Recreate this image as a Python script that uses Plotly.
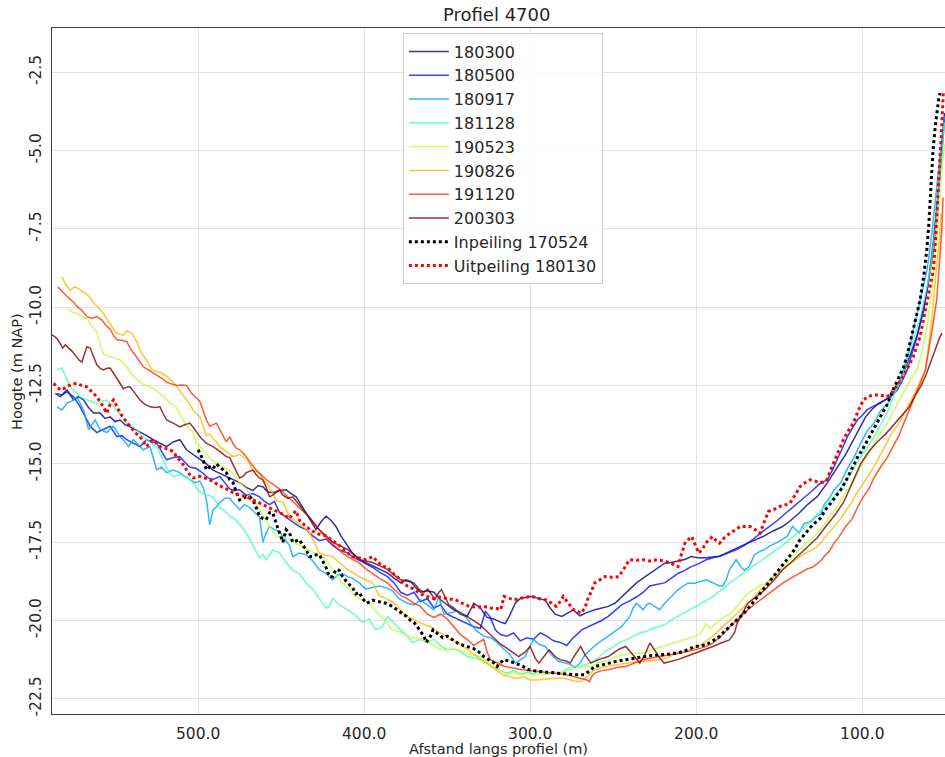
import plotly.graph_objects as go

# Distance along the profile (m) and bed level (m NAP) for each survey
d_180300 = [586, 583, 579, 575, 572, 569, 566, 563, 559, 556, 553, 550, 547, 544, 541, 538, 535, 531, 527, 523,
            519, 515, 511, 507, 503, 499, 495, 491, 487, 483, 479, 475, 471, 467, 464, 461, 458, 455, 451, 447,
            444, 441, 438, 435, 432, 429, 426, 423, 420, 417, 414, 410, 407, 403, 399, 395, 391, 386, 382, 378,
            375, 372, 369, 366, 362, 358, 354, 350, 346, 342, 338, 334, 330, 326, 322, 318, 315, 312, 309, 306,
            302, 299, 295, 291, 288, 285, 281, 277, 274, 270, 266, 261, 257, 253, 249, 245, 241, 236, 232, 228,
            224, 219, 215, 211, 207, 203, 199, 194, 190, 186, 182, 178, 174, 169, 164, 159, 154, 148, 143, 138,
            133, 127, 121, 115, 110, 106, 102, 98, 94, 90, 86, 83, 79, 75, 71, 67, 63, 60, 57, 54, 52, 50.5]
z_180300 = [-12.75, -12.86, -12.64, -12.96, -12.85, -12.96, -13.2, -13.38, -13.38, -13.55, -13.5, -13.65, -13.6,
            -13.75, -13.82, -13.9, -14.0, -14.1, -14.23, -14.35, -14.45, -14.3, -14.23, -14.55, -14.7, -14.85,
            -15.0, -15.2, -15.3, -15.4, -15.5, -15.6, -15.75, -15.85, -15.7, -15.73, -15.9, -15.92, -15.85, -15.83,
            -15.95, -16.05, -16.3, -16.56, -16.85, -17.1, -16.85, -16.67, -16.8, -17.0, -17.3, -17.63, -17.85,
            -18.05, -18.15, -18.27, -18.35, -18.48, -18.65, -18.8, -18.7, -18.75, -18.95, -19.1, -19.05, -19.1,
            -19.34, -19.5, -19.66, -19.75, -19.87, -19.45, -19.6, -19.9, -19.95, -20.05, -20.1, -19.8, -19.45,
            -19.3, -19.25, -19.23, -19.3, -19.35, -19.6, -19.8, -19.87, -19.75, -19.66, -19.85, -19.75, -19.66,
            -19.6, -19.55, -19.45, -19.25, -19.05, -18.8, -18.65, -18.5, -18.35, -18.17, -18.15, -18.1, -18.05,
            -17.96, -18.0, -18.0, -17.98, -17.95, -17.85, -17.74, -17.65, -17.53, -17.42, -17.3, -17.15, -17.0,
            -16.8, -16.57, -16.3, -16.04, -15.6, -15.1, -14.7, -14.3, -13.9, -13.5, -13.25, -13.06, -12.95,
            -12.85, -12.64, -12.1, -11.5, -10.9, -10.1, -9.1, -7.8, -6.2, -4.9, -3.8]

d_180500 = [585, 582, 579, 575, 571, 568, 565, 561, 557, 553, 549, 546, 543, 539, 535, 531, 528, 525, 522, 519,
            515, 511, 508, 505, 501, 497, 494, 491, 487, 484, 481, 478, 475, 471, 467, 463, 460, 457, 454, 451,
            447, 443, 439, 435, 431, 427, 423, 419, 415, 410, 406, 402, 398, 395, 391, 386, 382, 378, 374, 370,
            366, 362, 358, 354, 350, 346, 342, 338, 334, 330, 327, 324, 321, 318, 314, 310, 306, 302, 298, 294,
            290, 286, 282, 278, 275, 272, 269, 265, 261, 257, 253, 249, 245, 241, 236, 232, 228, 224, 219, 215,
            211, 207, 203, 199, 194, 190, 186, 181, 176, 171, 166, 161, 156, 151, 146, 141, 136, 131, 126, 121,
            118, 115, 112, 109, 106, 103, 100, 97, 93, 89, 86, 83, 79, 76, 73, 70, 67, 64, 61, 57, 54, 52, 50.5]
z_180500 = [-12.75, -12.8, -12.7, -12.86, -13.18, -13.5, -13.8, -14.0, -13.9, -13.8, -14.13, -14.1, -14.23, -14.33,
            -14.45, -14.23, -14.3, -14.33, -14.6, -14.87, -14.8, -14.77, -14.95, -15.1, -15.15, -15.3, -15.45,
            -15.5, -15.4, -15.6, -15.8, -15.85, -15.83, -16.0, -15.95, -16.05, -16.2, -16.3, -16.2, -16.55, -16.7,
            -16.85, -17.0, -17.1, -17.3, -17.45, -17.4, -17.6, -17.75, -17.84, -18.0, -18.1, -18.2, -18.3, -18.45,
            -18.6, -18.8, -19.1, -19.2, -19.1, -19.4, -19.3, -19.6, -19.5, -19.8, -19.9, -20.0, -20.1, -20.2,
            -20.25, -19.7, -19.9, -20.3, -20.45, -20.5, -20.4, -20.65, -20.55, -20.6, -20.4, -20.5, -20.65, -20.7,
            -20.8, -20.6, -20.45, -20.3, -20.2, -20.1, -20.0, -19.87, -19.7, -19.5, -19.4, -19.25, -19.1, -18.9,
            -18.85, -18.8, -18.65, -18.5, -18.4, -18.28, -18.2, -18.06, -18.0, -17.95, -17.85, -17.74, -17.6,
            -17.42, -17.2, -17.0, -16.8, -16.57, -16.35, -16.15, -15.9, -15.65, -15.5, -15.2, -14.87, -14.5,
            -14.13, -13.85, -13.6, -13.45, -13.27, -13.15, -13.06, -12.95, -12.85, -12.64, -12.35, -12.0, -11.5,
            -10.94, -10.2, -9.45, -8.17, -6.4, -5.0, -4.0]

d_180917 = [585, 582, 579, 576, 573, 569, 566, 562, 559, 555, 551, 547, 544, 542, 539, 536, 533, 529, 525, 522,
            519, 515, 511, 508, 505, 502, 499, 497, 495, 493, 491, 489, 487, 484, 481, 478, 475, 472, 469, 466,
            463, 461, 459, 457, 454, 451, 448, 445, 443, 439, 435, 431, 427, 423, 419, 416, 413, 410, 407, 403,
            399, 395, 391, 387, 383, 379, 374, 370, 366, 362, 358, 355, 352, 348, 344, 340, 336, 332, 328, 324,
            320, 316, 312, 309, 306, 303, 300, 298, 295, 291, 287, 283, 279, 276, 273, 270, 267, 264, 261, 259,
            256, 253, 249, 245, 242, 240, 238, 236, 234, 232, 230, 228, 225, 222, 219, 215, 211, 208, 205, 201,
            197, 194, 190, 186, 184, 182, 180, 178, 176, 173, 171, 168, 165, 162, 159, 155, 152, 148, 145, 142,
            140, 138, 135, 131, 128, 125, 123, 120, 117, 113, 109, 105, 101, 97, 93, 89, 85, 81, 77, 73, 70, 67,
            64, 61, 58, 55, 52.5, 50.5]
z_180917 = [-13.18, -13.28, -13.06, -13.0, -12.86, -13.28, -13.9, -13.6, -13.9, -14.0, -13.8, -14.13, -14.3, -14.45,
            -14.23, -14.4, -14.55, -14.45, -15.19, -15.1, -15.28, -15.2, -15.28, -15.4, -15.51, -15.6, -15.55,
            -15.75, -16.15, -16.94, -16.46, -16.37, -16.24, -16.1, -16.1, -16.3, -16.46, -16.3, -16.4, -16.55,
            -16.7, -17.5, -17.2, -17.0, -17.1, -17.15, -17.4, -17.6, -17.96, -17.85, -17.9, -18.1, -18.38, -18.5,
            -18.7, -18.55, -18.5, -18.6, -18.65, -18.8, -19.0, -18.95, -18.9, -18.95, -19.05, -19.3, -19.45,
            -19.5, -19.34, -19.5, -19.66, -19.25, -19.8, -19.75, -19.7, -19.8, -20.1, -20.35, -20.5, -20.55,
            -20.7, -20.9, -21.1, -21.36, -21.25, -21.15, -20.8, -20.6, -20.75, -20.83, -21.1, -21.3, -21.36,
            -21.4, -21.5, -21.36, -21.1, -20.94, -20.8, -20.72, -20.6, -20.51, -20.35, -20.2, -20.0, -19.87,
            -19.6, -19.45, -19.55, -19.66, -19.5, -19.45, -19.55, -19.66, -19.45, -19.23, -19.02, -18.9, -18.81,
            -18.81, -18.75, -18.7, -18.8, -18.9, -18.9, -18.7, -18.38, -18.2, -18.06, -18.3, -18.4, -18.27, -17.9,
            -17.8, -17.74, -17.6, -17.53, -17.4, -17.3, -17.0, -17.1, -17.2, -16.9, -16.85, -16.68, -16.6, -16.3,
            -16.1, -15.83, -15.6, -15.15, -14.8, -14.34, -13.95, -13.7, -13.3, -13.1, -12.7, -12.3, -11.6, -10.9,
            -10.1, -9.5, -8.8, -7.6, -6.0, -4.8, -3.9]

d_181128 = [585, 582, 579, 577, 574, 571, 567, 564, 561, 558, 555, 552, 549, 546, 543, 540, 537, 534, 531, 528,
            525, 522, 519, 517, 515, 511, 507, 505, 503, 500, 497, 494, 491, 487, 484, 481, 477, 474, 471, 467,
            463, 461, 459, 455, 451, 447, 443, 439, 435, 431, 427, 423, 421, 419, 415, 410, 406, 401, 397, 393,
            389, 386, 382, 378, 374, 371, 366, 362, 358, 354, 350, 346, 342, 338, 334, 330, 326, 322, 318, 314,
            310, 306, 302, 298, 294, 290, 286, 282, 278, 274, 270, 266, 262, 258, 254, 250, 246, 242, 238, 234,
            230, 226, 222, 218, 214, 211, 207, 203, 200, 196, 192, 188, 184, 180, 176, 172, 168, 164, 160, 156,
            152, 148, 144, 140, 136, 132, 128, 124, 120, 116, 112, 108, 104, 100, 96, 92, 88, 85, 81, 77, 73, 69,
            65, 62, 59, 56, 53, 50.5]
z_181128 = [-12.0, -11.94, -12.3, -12.54, -12.7, -12.86, -12.96, -13.0, -13.06, -13.0, -12.96, -13.1, -13.28, -13.5,
            -13.7, -13.8, -13.9, -14.1, -14.23, -14.35, -14.45, -14.8, -15.1, -15.3, -15.4, -15.35, -15.4, -15.5,
            -15.6, -15.85, -15.95, -16.0, -16.05, -16.4, -16.5, -16.67, -16.8, -17.0, -17.2, -17.6, -18.0, -17.9,
            -18.06, -17.75, -17.84, -18.15, -18.4, -18.5, -18.8, -19.0, -19.3, -19.6, -19.55, -19.3, -19.5, -19.66,
            -19.8, -20.06, -19.95, -20.3, -20.2, -19.87, -20.1, -20.3, -20.5, -20.7, -20.6, -20.7, -20.6, -20.8,
            -20.93, -20.9, -21.0, -21.15, -21.2, -21.25, -21.36, -21.5, -21.6, -21.68, -21.6, -21.7, -21.65,
            -21.7, -21.6, -21.72, -21.65, -21.68, -21.55, -21.47, -21.45, -21.4, -21.3, -21.15, -20.95, -20.85,
            -20.7, -20.62, -20.5, -20.4, -20.35, -20.25, -20.19, -20.1, -19.95, -19.87, -19.75, -19.62, -19.55,
            -19.42, -19.3, -19.15, -19.0, -18.81, -18.65, -18.5, -18.35, -18.2, -18.05, -17.9, -17.75, -17.6,
            -17.42, -17.25, -17.05, -16.88, -16.66, -16.45, -16.22, -15.98, -15.7, -15.4, -15.05, -14.7, -14.4,
            -14.05, -13.65, -13.38, -12.8, -12.4, -11.68, -11.0, -10.3, -9.6, -8.8, -7.5, -5.6, -4.1]

d_190523 = [578.5, 576, 573, 570, 567, 564, 561, 559, 557, 554, 551, 547, 543, 539, 535, 531, 527, 523, 519, 516,
            513, 510, 507, 503, 501, 498, 495, 491, 487, 483, 479, 475, 471, 467, 463, 460, 457, 453, 449, 445,
            441, 437, 433, 429, 425, 422, 419, 416, 413, 409, 405, 401, 397, 393, 389, 386, 383, 379, 374, 370,
            366, 362, 358, 354.5, 350, 346, 342.6, 338, 334, 330, 326, 322, 318, 314, 310, 306, 302, 298, 294,
            290, 286, 282, 278, 274, 270, 266, 263, 259, 255, 252, 248, 244, 240, 236, 232, 228, 224, 220, 216,
            211, 207, 203, 200, 197, 194, 192, 190, 186, 182, 179, 175, 172, 169, 165, 162, 158, 154, 150, 146,
            142, 138, 134, 130, 127, 123, 120, 117, 113, 110, 106, 103, 100, 96, 92, 89, 85, 81, 78, 75, 71, 67,
            64, 61, 58, 55, 53, 50.5]
z_190523 = [-10.05, -10.15, -10.2, -10.3, -10.35, -10.6, -10.8, -11.2, -11.5, -11.55, -11.6, -11.68, -11.9, -12.2,
            -12.4, -12.5, -12.6, -12.75, -12.95, -13.1, -13.2, -13.5, -13.8, -14.0, -14.33, -14.5, -14.7, -14.9,
            -15.05, -15.15, -15.3, -15.6, -15.8, -16.1, -16.46, -16.7, -17.0, -17.3, -17.35, -17.4, -17.55,
            -17.65, -17.75, -17.9, -17.95, -18.15, -18.4, -18.6, -18.8, -19.0, -19.25, -19.35, -19.45, -19.7,
            -19.9, -20.1, -20.3, -20.35, -20.5, -20.55, -20.6, -20.7, -20.8, -20.9, -20.95, -20.9, -20.95, -21.05,
            -21.1, -21.15, -21.3, -21.5, -21.6, -21.73, -21.65, -21.75, -21.68, -21.75, -21.7, -21.72, -21.65,
            -21.7, -21.6, -21.55, -21.5, -21.45, -21.47, -21.35, -21.3, -21.25, -21.15, -21.1, -21.05, -21.05,
            -21.04, -20.95, -20.9, -20.83, -20.75, -20.67, -20.6, -20.55, -20.5, -20.4, -20.09, -20.25, -20.19,
            -20.0, -19.85, -19.77, -19.5, -19.3, -19.13, -19.0, -18.9, -18.81, -18.6, -18.4, -18.2, -17.95, -17.74,
            -17.55, -17.35, -17.21, -16.95, -16.7, -16.47, -16.2, -15.9, -15.62, -15.3, -15.0, -14.66, -14.3,
            -14.0, -13.7, -13.3, -13.0, -12.74, -12.3, -12.0, -11.4, -10.6, -9.4, -7.7, -6.2, -4.8]

d_190826 = [582, 579.5, 577, 574.5, 572, 570, 568, 565, 563, 561, 559, 557, 555, 552, 550, 547, 545, 543, 540, 537,
            535, 533, 531, 528, 525, 522, 519, 517, 514, 512, 509, 507, 505, 503, 501, 499, 497, 495, 493, 491,
            489, 487, 483, 479, 475, 471, 469, 467, 465, 463, 461, 459, 456, 453, 451, 449, 447, 445, 442, 440,
            437, 435, 433, 431, 429, 427, 424, 421, 419, 416, 413, 410, 406, 403, 399, 395, 393, 391, 387, 383,
            379, 375, 371, 367, 363, 360, 356, 352, 348, 344, 340, 336, 332, 328, 324, 320, 316, 312, 308, 304,
            300, 296, 292, 288, 284, 280, 276, 272, 269.6, 266, 263, 261, 257, 253, 249, 245, 242, 238, 234, 230,
            226, 222, 218, 214, 210, 206, 202, 198, 194, 190, 186, 182, 179.6, 176, 172, 169, 165, 162, 158.7,
            155, 152, 148, 144, 141, 137.8, 134, 131, 127, 124, 120, 117, 113, 110, 106, 103, 99, 96, 92, 89, 85,
            82, 78, 75, 72, 69, 66.5, 64, 62, 60, 58, 56.5, 55, 53.5, 52.5]
z_190826 = [-9.03, -9.3, -9.45, -9.35, -9.4, -9.5, -9.54, -9.7, -9.85, -9.95, -10.08, -10.2, -10.35, -10.6, -10.8,
            -10.85, -10.9, -10.75, -10.83, -11.1, -11.36, -11.55, -11.7, -12.0, -12.05, -12.1, -12.2, -12.3,
            -12.45, -12.6, -12.8, -12.95, -13.1, -13.3, -13.4, -13.5, -13.8, -14.1, -14.05, -14.2, -14.3, -14.45,
            -14.6, -14.77, -14.7, -14.85, -15.0, -15.2, -15.25, -15.3, -15.5, -15.6, -15.85, -16.15, -16.2, -16.2,
            -16.45, -16.7, -16.8, -16.9, -17.0, -17.1, -17.2, -17.4, -17.6, -17.85, -17.9, -17.95, -17.96, -18.1,
            -18.25, -18.38, -18.5, -18.6, -18.7, -18.8, -19.0, -19.2, -19.3, -19.4, -19.6, -19.85, -19.95, -20.06,
            -20.15, -20.2, -20.35, -20.45, -20.6, -20.7, -20.85, -21.0, -21.15, -21.3, -21.45, -21.6, -21.75,
            -21.8, -21.85, -21.8, -21.9, -21.9, -21.88, -21.85, -21.84, -21.84, -21.9, -21.95, -21.95, -21.8,
            -21.65, -21.57, -21.5, -21.45, -21.42, -21.38, -21.36, -21.33, -21.3, -21.28, -21.27, -21.25, -21.2,
            -21.1, -21.05, -20.98, -20.9, -20.8, -20.65, -20.5, -20.3, -20.1, -19.98, -19.8, -19.6, -19.45, -19.25,
            -19.05, -18.9, -18.7, -18.55, -18.38, -18.2, -18.1, -17.96, -17.85, -17.75, -17.64, -17.45, -17.2,
            -17.0, -16.75, -16.5, -16.2, -15.9, -15.6, -15.35, -15.0, -14.7, -14.34, -14.0, -13.7, -13.38, -13.1,
            -12.8, -12.5, -12.25, -12.0, -11.2, -10.3, -9.4, -8.6, -7.8, -7.0]

d_191120 = [584.5, 582, 580, 577, 575, 573, 570, 567, 564, 561, 558, 556, 553, 551, 549, 546, 543, 541, 539, 536,
            533, 530, 527, 524, 521, 519, 516, 513, 510, 507, 504, 501, 499, 497, 495, 493, 491, 489, 487, 485,
            483, 481, 479, 477, 475, 473, 471, 468, 465, 462, 459, 455, 451, 447, 443, 439, 436, 433, 430, 427,
            425, 422, 418, 414, 410, 407, 403, 399, 395, 391, 386, 382, 378, 374, 370, 366, 362, 358, 354, 350,
            346, 342, 338, 334, 331, 328, 326, 324, 320, 316, 312, 308, 305, 301, 297, 294.8, 290, 284, 279, 274,
            269, 266, 264.4, 262.5, 261, 257, 253, 248, 242.4, 237, 232, 227, 221.5, 216, 211, 206, 200.6, 195,
            190, 185, 179.6, 174, 169, 164, 158.7, 153, 148, 143, 137.8, 133, 130, 127, 125, 123, 120, 117, 113,
            110, 106, 103, 100, 96, 93, 89, 85, 82, 78, 75, 71, 68, 65, 62, 59.2, 57, 55.2, 53.5, 52.2, 51.4]
z_191120 = [-9.35, -9.5, -9.6, -9.75, -9.83, -9.98, -10.1, -10.3, -10.35, -10.3, -10.4, -10.55, -10.7, -10.9,
            -11.04, -11.05, -11.1, -11.3, -11.46, -11.7, -11.9, -12.0, -12.1, -12.2, -12.3, -12.4, -12.45, -12.5,
            -12.48, -12.5, -12.75, -12.9, -13.0, -13.3, -13.6, -13.8, -13.75, -13.7, -13.9, -14.1, -14.3, -14.13,
            -14.35, -14.5, -14.55, -14.65, -14.77, -15.0, -15.2, -15.35, -15.5, -15.65, -15.8, -16.0, -16.2,
            -16.4, -16.55, -16.7, -16.9, -17.1, -17.25, -17.4, -17.6, -17.8, -17.96, -18.05, -18.16, -18.35,
            -18.5, -18.65, -18.8, -19.0, -19.2, -19.3, -19.45, -19.55, -19.8, -19.9, -19.8, -19.95, -20.2, -20.45,
            -20.6, -20.8, -20.7, -20.6, -21.0, -21.25, -21.35, -21.45, -21.5, -21.55, -21.57, -21.6, -21.62,
            -21.63, -21.65, -21.68, -21.72, -21.79, -21.85, -21.9, -21.95, -21.75, -21.68, -21.6, -21.57, -21.5,
            -21.47, -21.35, -21.25, -21.2, -21.15, -21.1, -21.04, -21.0, -20.93, -20.85, -20.72, -20.5, -20.19,
            -19.9, -19.66, -19.45, -19.23, -19.0, -18.81, -18.65, -18.49, -18.35, -18.3, -18.17, -18.1, -17.96,
            -17.8, -17.53, -17.25, -17.0, -16.75, -16.4, -16.1, -15.8, -15.45, -15.1, -14.8, -14.5, -14.1, -13.7,
            -13.2, -12.8, -12.42, -12.0, -11.15, -10.4, -9.77, -8.6, -7.6, -6.5]

d_200303 = [588, 586, 584.5, 583, 581.5, 580, 578.5, 576, 573, 571.5, 570, 568, 567, 565, 563, 561, 559, 557, 555,
            553, 551, 549, 547, 545, 543, 541, 538, 535, 532, 529, 526, 523, 521, 519, 515, 511, 508, 505, 502,
            499, 495, 491, 487, 483, 481, 478, 475, 473, 471, 467, 465, 463, 461, 459, 457, 455, 453, 451, 449,
            446, 443, 440, 437, 434, 431, 428, 425, 422, 419, 415, 410, 406, 403, 399, 395, 391, 386, 382, 378,
            374, 370, 367, 364, 361.8, 359, 357.6, 355, 353.4, 351, 349, 346, 342, 338, 334, 330, 326, 322, 318,
            315, 311, 307, 303, 300, 297, 294.8, 291, 288.5, 285, 282, 278, 275.9, 273, 269.6, 267, 263.4, 259,
            256, 252.9, 249, 246, 242.4, 239, 236, 234, 231, 228, 225, 222, 219.4, 215, 211, 206, 200.6, 195, 190,
            185, 180, 177, 175.4, 172, 169, 164, 158.7, 153, 148, 143, 138, 133, 127, 122, 116, 111, 106, 101, 96,
            91, 86, 81, 76, 72, 68, 64.5, 61.2, 58, 55, 53.2, 52]
z_200303 = [-10.88, -10.95, -11.04, -11.15, -11.3, -11.2, -11.27, -11.4, -11.6, -11.7, -11.75, -11.4, -11.26, -11.3,
            -11.55, -11.84, -11.95, -12.0, -11.95, -11.94, -12.1, -12.27, -12.45, -12.6, -12.55, -12.54, -12.75,
            -12.96, -13.1, -13.18, -13.2, -13.18, -13.4, -13.6, -13.7, -13.82, -13.75, -13.7, -13.9, -14.13,
            -14.35, -14.45, -14.6, -14.77, -14.8, -15.1, -15.45, -15.4, -15.28, -15.2, -15.35, -15.45, -15.51,
            -15.75, -16.05, -16.0, -15.9, -15.83, -16.0, -16.1, -16.05, -16.25, -16.46, -16.65, -16.88, -17.05,
            -17.2, -17.35, -17.5, -17.6, -17.73, -17.9, -18.05, -18.1, -18.15, -18.25, -18.37, -18.55, -18.7,
            -18.75, -18.8, -19.0, -19.1, -19.0, -19.2, -19.35, -19.1, -19.02, -19.3, -19.5, -19.6, -19.8, -19.87,
            -20.0, -20.15, -20.35, -20.55, -20.75, -20.85, -21.0, -21.15, -21.0, -20.83, -21.2, -21.36, -21.1,
            -20.94, -21.15, -21.25, -21.3, -21.36, -21.1, -20.83, -21.1, -21.36, -21.25, -21.2, -21.15, -21.0,
            -20.9, -20.83, -21.05, -21.25, -21.36, -21.1, -20.72, -20.95, -21.2, -21.36, -21.3, -21.25, -21.15,
            -21.04, -20.95, -20.83, -20.72, -20.62, -20.4, -20.09, -19.75, -19.45, -19.25, -19.02, -18.7, -18.38,
            -18.15, -17.9, -17.65, -17.35, -17.0, -16.6, -16.2, -15.6, -15.0, -14.6, -14.3, -14.05, -13.75, -13.45,
            -13.2, -12.8, -12.5, -12.1, -11.6, -11.2, -10.94, -10.83]

d_in170524 = [500, 497, 495, 493, 491, 489, 487, 485, 483, 481, 479, 477, 475, 473, 471, 469, 467, 465, 463, 461,
              459, 457, 455, 453, 451, 449, 447, 445, 443, 441, 439, 437, 435, 433, 431, 429, 427, 425, 423, 421,
              419, 417, 415, 413, 410, 407, 405, 403, 401, 398.5, 395, 391, 387, 383, 379, 374.5, 372, 370, 368,
              366.6, 364, 362.6, 360, 358.6, 356, 352.6, 350, 347, 343, 340, 337, 334, 331, 328, 325, 322, 320,
              318, 315.7, 312, 309, 305, 301, 298, 294.8, 290, 284.3, 279, 273.8, 270, 267.5, 264, 261.3, 257,
              252.9, 248, 242.4, 237, 232, 227, 221.5, 216, 211, 206, 200.6, 197, 194.3, 190, 186, 183, 179.6, 175,
              171.3, 167, 162.9, 159, 156, 152, 148, 144, 141, 137.8, 134, 130, 125.5, 122, 118.9, 115.4, 112.6,
              109, 106, 103, 100, 97, 94, 91, 88, 85, 81.2, 77.1, 75, 73.2, 71, 69.2, 67, 65.2, 63, 61.2, 60,
              59.2, 58.3, 57.4, 56, 55, 54, 53.2]
z_in170524 = [-14.55, -14.87, -15.19, -15.1, -15.15, -15.0, -15.1, -15.2, -15.28, -15.5, -15.6, -15.9, -16.15,
              -16.1, -16.05, -16.05, -16.15, -16.4, -16.67, -16.75, -16.78, -16.56, -16.56, -16.9, -17.2, -17.5,
              -17.1, -17.2, -17.5, -17.45, -17.42, -17.6, -17.73, -17.96, -17.96, -17.9, -17.9, -18.1, -18.3,
              -18.6, -18.6, -18.37, -18.4, -18.6, -18.8, -18.95, -19.15, -19.1, -19.3, -19.45, -19.35, -19.4,
              -19.45, -19.55, -19.7, -19.87, -20.0, -20.06, -20.2, -20.3, -20.5, -20.7, -20.5, -20.3, -20.4,
              -20.55, -20.5, -20.6, -20.75, -20.8, -20.85, -20.9, -21.0, -21.15, -21.25, -21.35, -21.47, -21.35,
              -21.25, -21.3, -21.36, -21.45, -21.57, -21.6, -21.63, -21.65, -21.68, -21.7, -21.73, -21.73, -21.73,
              -21.6, -21.47, -21.42, -21.36, -21.3, -21.25, -21.2, -21.15, -21.12, -21.1, -21.07, -21.04, -20.95,
              -20.83, -20.8, -20.78, -20.65, -20.51, -20.35, -20.19, -19.95, -19.77, -19.5, -19.23, -18.95, -18.75,
              -18.5, -18.25, -17.96, -17.75, -17.45, -17.2, -16.95, -16.75, -16.45, -16.25, -16.0, -15.8, -15.45,
              -15.1, -14.8, -14.55, -14.25, -14.0, -13.7, -13.4, -13.1, -12.6, -12.15, -11.9, -11.57, -11.1,
              -10.62, -10.2, -9.77, -9.0, -8.17, -7.4, -6.58, -5.8, -4.98, -4.2, -3.7, -3.35, -3.16]

d_uit180130 = [587, 585, 583, 581, 579, 576, 573, 570, 567, 564, 561, 558, 555, 553, 551, 549, 547, 544, 541, 538,
               535, 533, 531, 529, 527, 525, 523, 520, 517, 515, 513, 510, 507, 505, 503, 501, 499, 496, 493, 490,
               487, 483, 479, 475, 471, 467, 463, 459, 455, 451, 447, 445, 443, 441, 439, 435, 431, 427, 423, 419,
               415, 411, 407, 403, 399, 395, 392, 389, 386, 383, 380, 378, 374, 370, 366, 362.6, 358, 354.6, 350,
               345, 341, 336.6, 332, 328.3, 324, 320, 317.8, 315.7, 312, 309.4, 305, 302, 299, 295, 290.6, 287,
               284.3, 282, 280.1, 277, 273.8, 271, 269.6, 267, 265.5, 263, 261.3, 258, 255, 251, 246.6, 243, 240.3,
               236, 232, 228, 223.6, 219, 215.2, 212.5, 211, 209, 206.8, 204.5, 202.7, 200.5, 198.5, 196, 194.3,
               192, 190.1, 188, 186, 183, 179.7, 176, 173.6, 170, 167.6, 164.5, 161.6, 159, 156.6, 153, 149.6, 146,
               143.5, 140.5, 137.5, 134.5, 131.5, 128.5, 125.5, 123.5, 121.4, 119.5, 117.4, 114.5, 111.4, 108.5,
               105.4, 102.5, 99.4, 96.5, 93.3, 89.5, 85.3, 83, 81.3, 78.3, 75.3, 72.3, 69.2, 67.2, 65.2, 63.2,
               61.2, 59.2, 57.2, 56, 55, 54, 53.2, 52.4, 51.8, 51.2]
z_uit180130 = [-12.43, -12.55, -12.64, -12.6, -12.54, -12.45, -12.43, -12.5, -12.54, -12.7, -12.86, -13.1, -13.38,
               -13.1, -12.96, -13.15, -13.38, -13.6, -13.82, -14.0, -14.13, -14.3, -14.45, -14.3, -14.23, -14.35,
               -14.45, -14.5, -14.55, -14.6, -14.77, -14.95, -15.19, -15.35, -15.45, -15.42, -15.4, -15.45, -15.51,
               -15.6, -15.7, -15.8, -15.92, -16.0, -16.05, -16.15, -16.24, -16.35, -16.46, -16.55, -16.67, -16.75,
               -16.6, -16.5, -16.8, -17.0, -17.15, -17.25, -17.3, -17.45, -17.6, -17.8, -17.96, -18.0, -18.06,
               -17.96, -18.1, -18.27, -18.3, -18.48, -18.6, -18.75, -18.9, -19.0, -19.15, -19.23, -19.3, -19.25,
               -19.3, -19.34, -19.45, -19.55, -19.58, -19.55, -19.6, -19.62, -19.66, -19.23, -19.3, -19.34, -19.28,
               -19.25, -19.23, -19.3, -19.34, -19.45, -19.55, -19.4, -19.23, -19.45, -19.66, -19.72, -19.77, -19.6,
               -19.34, -19.05, -18.81, -18.7, -18.6, -18.62, -18.6, -18.3, -18.06, -18.08, -18.06, -18.1, -18.06,
               -18.1, -18.17, -18.25, -18.28, -17.9, -17.53, -17.4, -17.32, -17.6, -17.85, -17.7, -17.53, -17.4,
               -17.32, -17.45, -17.53, -17.35, -17.21, -17.1, -17.0, -17.0, -17.0, -17.1, -17.21, -16.85, -16.52,
               -16.45, -16.36, -16.3, -16.25, -16.0, -15.72, -15.6, -15.51, -15.55, -15.6, -15.58, -15.51, -15.25,
               -14.98, -14.6, -14.23, -13.95, -13.7, -13.3, -12.96, -12.85, -12.8, -12.8, -12.85, -12.8, -12.64,
               -12.45, -12.21, -11.9, -11.57, -11.25, -10.94, -10.4, -9.87, -9.35, -8.81, -7.9, -6.8, -5.9, -5.2,
               -4.5, -3.8, -3.1]

# Survey labels and jet-colormap colours
survey_names = ["180300", "180500", "180917", "181128", "190523", "190826", "191120", "200303"]
survey_colors = ["rgb(0,0,128)", "rgb(0,18,255)", "rgb(0,164,255)", "rgb(65,255,182)",
                 "rgb(182,255,65)", "rgb(255,185,0)", "rgb(255,50,0)", "rgb(128,0,0)"]
survey_d = [d_180300, d_180500, d_180917, d_181128, d_190523, d_190826, d_191120, d_200303]
survey_z = [z_180300, z_180500, z_180917, z_181128, z_190523, z_190826, z_191120, z_200303]

x_ticks = [500, 400, 300, 200, 100]
y_ticks = [-2.5, -5.0, -7.5, -10.0, -12.5, -15.0, -17.5, -20.0, -22.5]

FONT = "DejaVu Sans"
TXT = "#262626"

fig = go.Figure()
for name, color, dd, zz in zip(survey_names, survey_colors, survey_d, survey_z):
    fig.add_trace(go.Scatter(x=dd, y=zz, mode="lines", name=name, opacity=0.8,
                             line=dict(color=color, width=1.5)))

fig.add_trace(go.Scatter(x=d_in170524, y=z_in170524, mode="lines", name="Inpeiling 170524",
                         line=dict(color="black", width=3, dash="dot")))
fig.add_trace(go.Scatter(x=d_uit180130, y=z_uit180130, mode="lines", name="Uitpeiling 180130",
                         line=dict(color="red", width=3, dash="dot")))

fig.update_layout(
    width=945, height=757,
    margin=dict(l=52, r=0, t=28, b=43),
    paper_bgcolor="white", plot_bgcolor="white",
    font=dict(family=FONT, color=TXT),
    title=dict(text="Profiel 4700", x=0.498, xref="paper", xanchor="center",
               y=1 - 15 / 757, yref="container", yanchor="middle",
               font=dict(size=18, color=TXT, family=FONT)),
    showlegend=True,
    legend=dict(x=0.3929, y=0.992, xanchor="left", yanchor="top",
                bgcolor="rgba(255,255,255,0.85)", bordercolor="#cccccc", borderwidth=1,
                font=dict(size=16, color=TXT, family=FONT), itemwidth=40,
                tracegroupgap=0),
    annotations=[dict(text="Hoogte (m NAP)", textangle=-90, xref="paper", yref="paper",
                      x=-0.0392, y=0.5, xanchor="center", yanchor="middle", showarrow=False,
                      font=dict(size=14.5, color=TXT, family=FONT))],
)

fig.update_xaxes(
    range=[588, 50.2], autorange=False,
    tickmode="array", tickvals=x_ticks, ticktext=[f"{v:.1f}" for v in x_ticks],
    tickfont=dict(size=15.5, color=TXT, family=FONT),
    ticks="", ticklabelstandoff=5,
    showgrid=True, gridcolor="#e2e2e2", gridwidth=1,
    showline=True, linecolor="#3c3c3c", linewidth=1.3, mirror=True,
    zeroline=False,
    title=dict(text="Afstand langs profiel (m)", font=dict(size=14.5, color=TXT, family=FONT), standoff=0),
)
fig.update_yaxes(
    range=[-22.985, -1.086], autorange=False,
    tickmode="array", tickvals=y_ticks, ticktext=[f"{v:.1f}" for v in y_ticks],
    tickfont=dict(size=15.5, color=TXT, family=FONT), tickangle=-90,
    ticks="", ticklabelstandoff=4,
    showgrid=True, gridcolor="#e2e2e2", gridwidth=1,
    showline=True, linecolor="#3c3c3c", linewidth=1.3,
    zeroline=False,
)

fig.write_html("out.html")
